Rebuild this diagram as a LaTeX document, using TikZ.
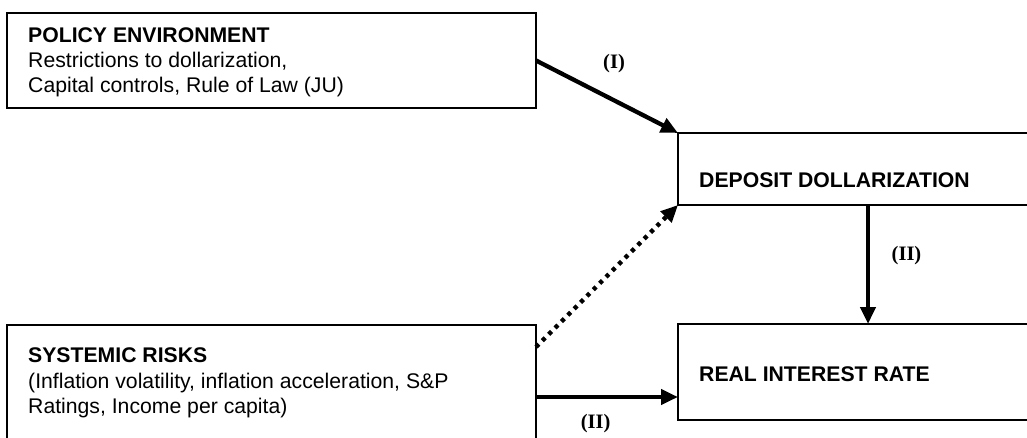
\documentclass[tikz,border=0pt]{standalone}
\usepackage{fontspec}
\setmainfont{Liberation Sans}
\newfontfamily\labelfont{Liberation Serif}
\usetikzlibrary{arrows.meta,calc}
\begin{document}
\begin{tikzpicture}[x=1pt,y=-1pt,
  box/.style={draw, line width=1.4pt, inner sep=0pt, outer sep=0pt, anchor=north west},
  txt/.style={anchor=base west, inner sep=0pt, align=left, font=\fontsize{21.2}{25.3}\selectfont},
  lab/.style={anchor=base west, inner sep=0pt, font=\labelfont\bfseries\fontsize{20.5}{24}\selectfont},
  conn/.style={line width=4.3pt, -{Triangle[length=17pt,width=15pt]}},
  dotconn/.style={conn, line width=4.3pt, dash pattern=on 4pt off 5pt}]
\clip (0,0) rectangle (1027,438);
\fill[white] (0,0) rectangle (1027,438);
% boxes
\node[box, minimum width=529pt, minimum height=95pt] (pol) at (7,13) {};
\node[box, minimum width=400pt, minimum height=72pt] (dep) at (678,133) {};
\node[box, minimum width=529pt, minimum height=140pt] (sys) at (7,325) {};
\node[box, minimum width=400pt, minimum height=96pt] (rate) at (678,324) {};
% texts (anchored at the baseline of their last line)
\node[txt] (poltxt) at (28,92.7) {\textbf{POLICY ENVIRONMENT}\\Restrictions to dollarization,\\Capital controls, Rule of Law (JU)};
\node[txt] (deptxt) at (699,187.3) {\textbf{DEPOSIT DOLLARIZATION}};
\node[txt] (systxt) at (28,413.3) {\textbf{SYSTEMIC RISKS}\\(Inflation volatility, inflation acceleration, S\&P\\Ratings, Income per capita)};
\node[txt] (ratetxt) at (699,381) {\textbf{REAL INTEREST RATE}};
% connectors
\draw[conn] (pol.east) -- (dep.north west);
\draw[dotconn] ($(sys.north east)+(0,22)$) -- (dep.south west);
\draw[conn] ($(dep.south west)+(190,0)$) -- ($(rate.north west)+(190,0)$);
\draw[conn] ($(sys.north east)+(0,72)$) -- ($(rate.north west)+(0,73)$);
% labels
\node[lab] (l1) at (603,68.3) {(I)};
\node[lab] (l2) at (891.5,260.7) {(II)};
\node[lab] (l3) at (580.7,428.3) {(II)};
\end{tikzpicture}
\end{document}
